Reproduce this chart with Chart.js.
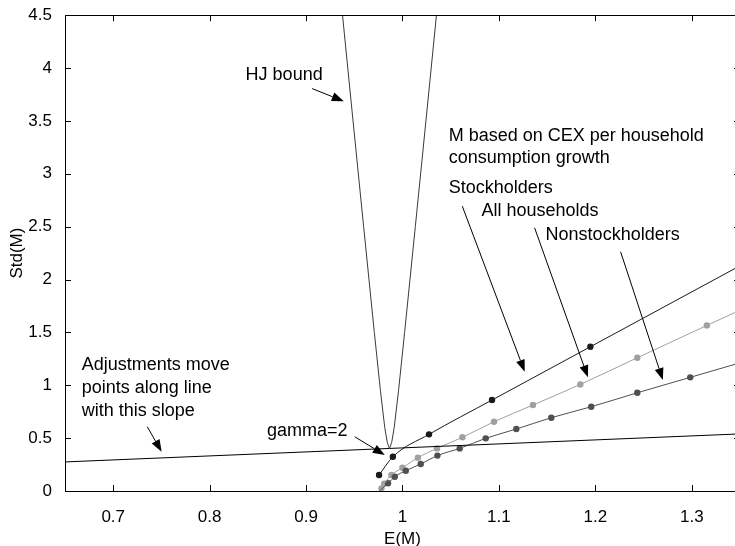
<!DOCTYPE html>
<html>
<head>
<meta charset="utf-8">
<script src="https://cdn.jsdelivr.net/npm/chart.js@4.4.1/dist/chart.umd.min.js"></script>
<style>
html, body { margin: 0; padding: 0; background: #fff; overflow: hidden; }
#wrap { width: 745px; height: 546px; }
</style>
</head>
<body>
<div id="wrap"><canvas id="grafico" width="745" height="546"></canvas></div>
<script>
// Ticks de los ejes
const xTicks = [0.7, 0.8, 0.9, 1, 1.1, 1.2, 1.3];
const yTicks = [0, 0.5, 1, 1.5, 2, 2.5, 3, 3.5, 4, 4.5];

// Cota HJ
const hjE   = [0.9378, 0.9487, 0.9597, 0.9708, 0.9771, 0.9816, 0.9842, 0.9865, 0.9888, 0.9914, 0.9959, 1.0022, 1.0133, 1.0243, 1.0352];
const hjStd = [4.5, 3.5, 2.5, 1.5, 0.95, 0.6, 0.46, 0.40, 0.46, 0.6, 0.95, 1.5, 2.5, 3.5, 4.5];

// Recta de ajuste
const ajusteE   = [0.65, 1.35];
const ajusteStd = [0.275, 0.54];

// Stockholders
const stockCurvaE   = [0.9757, 0.990, 1.0275, 1.0928, 1.1948, 1.35];
const stockCurvaStd = [0.151, 0.324, 0.536, 0.860, 1.364, 2.13];
const stockPuntosE   = [0.9757, 0.990, 1.0275, 1.0928, 1.1948];
const stockPuntosStd = [0.151, 0.324, 0.536, 0.860, 1.364];

// All households
const todosCurvaE   = [0.976, 0.9782, 0.981, 0.9885, 0.9999, 1.016, 1.0358, 1.0621, 1.0949, 1.1353, 1.1844, 1.2435, 1.3156, 1.35];
const todosCurvaStd = [0, 0.025, 0.07, 0.151, 0.22, 0.315, 0.403, 0.508, 0.655, 0.813, 1.008, 1.26, 1.566, 1.71];
const todosPuntosE   = [0.9782, 0.981, 0.9885, 0.9999, 1.016, 1.0358, 1.0621, 1.0949, 1.1353, 1.1844, 1.2435, 1.3156];
const todosPuntosStd = [0.025, 0.07, 0.151, 0.22, 0.315, 0.403, 0.508, 0.655, 0.813, 1.008, 1.26, 1.566];

// Nonstockholders
const nonCurvaE   = [0.976, 0.985, 0.992, 1.0034, 1.0189, 1.0362, 1.0593, 1.0863, 1.118, 1.1543, 1.1957, 1.2435, 1.2984, 1.35];
const nonCurvaStd = [0, 0.073, 0.135, 0.192, 0.255, 0.335, 0.403, 0.498, 0.586, 0.693, 0.797, 0.929, 1.075, 1.212];
const nonPuntosE   = [0.985, 0.992, 1.0034, 1.0189, 1.0362, 1.0593, 1.0863, 1.118, 1.1543, 1.1957, 1.2435, 1.2984];
const nonPuntosStd = [0.073, 0.135, 0.192, 0.255, 0.335, 0.403, 0.498, 0.586, 0.693, 0.797, 0.929, 1.075];

// Textos y flechas (en unidades de datos)
const textos = [
    { t: 'HJ bound', x: 0.8373, y: 3.932, align: 'left' },
    { t: 'M based on CEX per household', x: 1.0479, y: 3.358, align: 'left' },
    { t: 'consumption growth', x: 1.0479, y: 3.147, align: 'left' },
    { t: 'Stockholders', x: 1.0479, y: 2.864, align: 'left' },
    { t: 'All households', x: 1.0818, y: 2.647, align: 'left' },
    { t: 'Nonstockholders', x: 1.1484, y: 2.42, align: 'left' },
    { t: 'Adjustments move', x: 0.6673, y: 1.191, align: 'left' },
    { t: 'points along line', x: 0.6673, y: 0.974, align: 'left' },
    { t: 'with this slope', x: 0.6673, y: 0.759, align: 'left' },
    { t: 'gamma=2', x: 0.943, y: 0.570, align: 'right' }
];
const flechas = [
    { x0: 0.9063, y0: 3.806, x1: 0.9391, y1: 3.686 },
    { x0: 1.0620, y0: 2.694, x1: 1.1267, y1: 1.128 },
    { x0: 1.137, y0: 2.489, x1: 1.1923, y1: 1.075 },
    { x0: 1.2262, y0: 2.262, x1: 1.27, y1: 1.049 },
    { x0: 0.7353, y0: 0.608, x1: 0.7502, y1: 0.371 },
    { x0: 0.9505, y0: 0.513, x1: 0.9816, y1: 0.340 }
];

const FUENTE = '"Liberation Sans", Arial, Helvetica, sans-serif';

function pares(xs, ys) {
    return xs.map((v, i) => ({ x: v, y: ys[i] }));
}

function curva(xs, ys, color) {
    return {
        data: pares(xs, ys),
        showLine: true,
        borderColor: color,
        borderWidth: 1,
        pointRadius: 0,
        cubicInterpolationMode: 'monotone',
        fill: false
    };
}

function puntos(xs, ys, color) {
    return {
        data: pares(xs, ys),
        showLine: false,
        pointRadius: 3.2,
        pointBackgroundColor: color,
        pointBorderColor: color,
        pointBorderWidth: 0
    };
}

// Marco, ticks hacia adentro, flechas y textos
const marcoPlugin = {
    id: 'marco',
    afterDraw(chart) {
        const { ctx, chartArea: a, scales: { x, y } } = chart;
        ctx.save();
        ctx.strokeStyle = '#000';
        ctx.lineWidth = 1;
        ctx.strokeRect(Math.round(a.left) + 0.5, Math.round(a.top) + 0.5,
            Math.round(a.right - a.left), Math.round(a.bottom - a.top));

        const tl = 6;
        ctx.beginPath();
        xTicks.forEach(v => {
            const px = Math.round(x.getPixelForValue(v)) + 0.5;
            ctx.moveTo(px, a.bottom); ctx.lineTo(px, a.bottom - tl);
            ctx.moveTo(px, a.top); ctx.lineTo(px, a.top + tl);
        });
        yTicks.forEach(v => {
            const py = Math.round(y.getPixelForValue(v)) + 0.5;
            ctx.moveTo(a.left, py); ctx.lineTo(a.left + tl, py);
            ctx.moveTo(a.right, py); ctx.lineTo(a.right - tl, py);
        });
        ctx.stroke();

        // flechas
        ctx.fillStyle = '#000';
        flechas.forEach(f => {
            const x0 = x.getPixelForValue(f.x0), y0 = y.getPixelForValue(f.y0);
            const x1 = x.getPixelForValue(f.x1), y1 = y.getPixelForValue(f.y1);
            const ang = Math.atan2(y1 - y0, x1 - x0);
            const largo = 12, ancho = 4.5;
            const bx = x1 - largo * Math.cos(ang), by = y1 - largo * Math.sin(ang);
            ctx.beginPath();
            ctx.moveTo(x0, y0); ctx.lineTo(bx, by);
            ctx.stroke();
            ctx.beginPath();
            ctx.moveTo(x1, y1);
            ctx.lineTo(bx + ancho * Math.sin(ang), by - ancho * Math.cos(ang));
            ctx.lineTo(bx - ancho * Math.sin(ang), by + ancho * Math.cos(ang));
            ctx.closePath();
            ctx.fill();
        });

        // textos
        ctx.font = '18px ' + FUENTE;
        ctx.textBaseline = 'middle';
        textos.forEach(tx => {
            ctx.textAlign = tx.align;
            ctx.fillText(tx.t, x.getPixelForValue(tx.x), y.getPixelForValue(tx.y));
        });
        ctx.restore();
    }
};

const ctx = document.getElementById('grafico').getContext('2d');
const chart = new Chart(ctx, {
    type: 'scatter',
    data: {
        datasets: [
            { ...curva(hjE, hjStd, '#3a3a3a'), cubicInterpolationMode: 'default', tension: 0 },
            { ...curva(ajusteE, ajusteStd, '#000000'), cubicInterpolationMode: 'default', tension: 0 },
            curva(nonCurvaE, nonCurvaStd, '#505050'),
            curva(todosCurvaE, todosCurvaStd, '#a0a0a0'),
            curva(stockCurvaE, stockCurvaStd, '#1a1a1a'),
            puntos(nonPuntosE, nonPuntosStd, '#505050'),
            puntos(todosPuntosE, todosPuntosStd, '#a0a0a0'),
            puntos(stockPuntosE, stockPuntosStd, '#1a1a1a')
        ]
    },
    options: {
        responsive: false,
        animation: false,
        events: [],
        layout: { padding: { top: 15, right: 5, bottom: 0, left: 0 } },
        plugins: {
            legend: { display: false },
            tooltip: { enabled: false }
        },
        scales: {
            x: {
                type: 'linear',
                min: 0.65,
                max: 1.35,
                afterBuildTicks: s => { s.ticks = xTicks.map(v => ({ value: v })); },
                afterFit: s => { s.height = 55; },
                grid: { display: false },
                border: { display: false },
                ticks: {
                    color: '#000',
                    padding: 8,
                    maxRotation: 0,
                    font: { family: FUENTE, size: 17 },
                    callback: v => String(+v.toFixed(2))
                },
                title: {
                    display: true,
                    text: 'E(M)',
                    color: '#000',
                    font: { family: FUENTE, size: 17, lineHeight: 1 },
                    padding: { top: 0, bottom: -2 }
                }
            },
            y: {
                type: 'linear',
                min: 0,
                max: 4.5,
                afterBuildTicks: s => { s.ticks = yTicks.map(v => ({ value: v })); },
                afterFit: s => { s.width = 65; },
                grid: { display: false },
                border: { display: false },
                ticks: {
                    color: '#000',
                    padding: 5,
                    font: { family: FUENTE, size: 17 },
                    callback: v => String(+v.toFixed(2))
                },
                title: {
                    display: true,
                    text: 'Std(M)',
                    color: '#000',
                    font: { family: FUENTE, size: 17, lineHeight: 1 },
                    padding: { top: 8.5, bottom: 0 }
                }
            }
        }
    },
    plugins: [marcoPlugin]
});
</script>
</body>
</html>
